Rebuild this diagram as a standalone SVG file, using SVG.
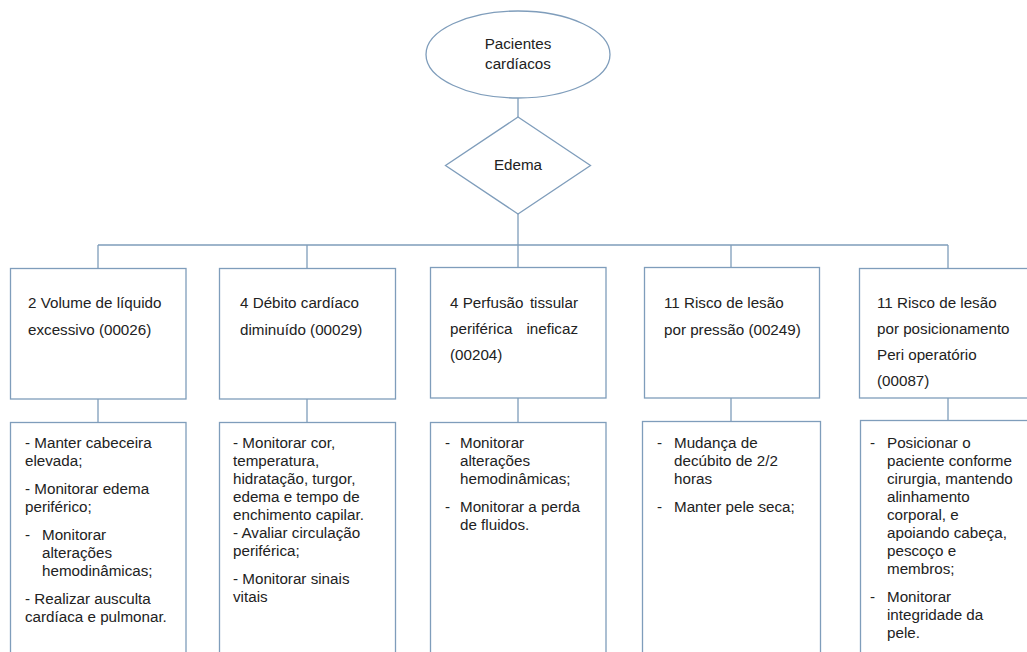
<svg xmlns="http://www.w3.org/2000/svg" width="1027" height="652" viewBox="0 0 1027 652">
<style>
.s{fill:#fff;stroke:#7f9dbb;stroke-width:1.3}
.c{fill:none;stroke:#7f9dbb;stroke-width:1.3}
text{font-family:"Liberation Sans",Arial,sans-serif;font-size:15.2px;fill:#222}
.m{text-anchor:middle}
.e{text-anchor:end}
</style>
<rect width="1027" height="652" fill="#fff"/>
<g id="connectors">
<path class="c" d="M518 98V117M518 214V245M98 245H948M98 245V268M307 245V268M518 245V268M731 245V268M948 245V268M98 399V422M307 399V422M518 398V422M731 398V422M948 398V420"/>
</g>
<g id="root">
<ellipse class="s" cx="518" cy="54.5" rx="92" ry="43.5"/>
<text class="m" x="518" y="49">Pacientes</text>
<text class="m" x="518" y="69">cardíacos</text>
</g>
<g id="edema">
<polygon class="s" points="518,117 590.5,165.5 518,214 445.5,165.5"/>
<text class="m" x="518" y="170">Edema</text>
</g>
<g id="d1">
<rect class="s" x="10.5" y="268.5" width="175.5" height="130.5"/>
<text x="28" y="308">2 Volume de líquido</text>
<text x="28" y="335">excessivo (00026)</text>
</g>
<g id="d2">
<rect class="s" x="219.5" y="268.5" width="176" height="130.5"/>
<text x="240" y="308">4 Débito cardíaco</text>
<text x="240" y="335">diminuído (00029)</text>
</g>
<g id="d3">
<rect class="s" x="430.5" y="267.5" width="175.5" height="130.5"/>
<text x="450" y="308">4 Perfusão</text>
<text class="e" x="578" y="308">tissular</text>
<text x="450" y="334">periférica</text>
<text class="e" x="578" y="334">ineficaz</text>
<text x="450" y="360">(00204)</text>
</g>
<g id="d4">
<rect class="s" x="644.5" y="267.5" width="175" height="130.5"/>
<text x="664" y="308">11 Risco de lesão</text>
<text x="664" y="335">por pressão (00249)</text>
</g>
<g id="d5">
<rect class="s" x="859.5" y="268.5" width="180" height="129.5"/>
<text x="877" y="308">11 Risco de lesão</text>
<text x="877" y="334">por posicionamento</text>
<text x="877" y="360">Peri operatório</text>
<text x="877" y="386">(00087)</text>
</g>
<g id="i1">
<rect class="s" x="10.5" y="422.5" width="175.5" height="240"/>
<text x="25" y="448">- Manter cabeceira</text>
<text x="25" y="466">elevada;</text>
<text x="25" y="494">- Monitorar edema</text>
<text x="25" y="512">periférico;</text>
<text x="25" y="540">-</text>
<text x="42" y="540">Monitorar</text>
<text x="42" y="558">alterações</text>
<text x="42" y="576">hemodinâmicas;</text>
<text x="25" y="604">- Realizar ausculta</text>
<text x="25" y="622">cardíaca e pulmonar.</text>
</g>
<g id="i2">
<rect class="s" x="219.5" y="422.5" width="176" height="240"/>
<text x="233" y="448">- Monitorar cor,</text>
<text x="233" y="466">temperatura,</text>
<text x="233" y="484">hidratação, turgor,</text>
<text x="233" y="502">edema e tempo de</text>
<text x="233" y="520">enchimento capilar.</text>
<text x="233" y="538">- Avaliar circulação</text>
<text x="233" y="556">periférica;</text>
<text x="233" y="584">- Monitorar sinais</text>
<text x="233" y="602">vitais</text>
</g>
<g id="i3">
<rect class="s" x="430.5" y="422.5" width="175.5" height="240"/>
<text x="445" y="448">-</text>
<text x="460" y="448">Monitorar</text>
<text x="460" y="466">alterações</text>
<text x="460" y="484">hemodinâmicas;</text>
<text x="445" y="512">-</text>
<text x="460" y="512">Monitorar a perda</text>
<text x="460" y="530">de fluidos.</text>
</g>
<g id="i4">
<rect class="s" x="642.5" y="421.5" width="178" height="240"/>
<text x="657" y="448">-</text>
<text x="674" y="448">Mudança de</text>
<text x="674" y="466">decúbito de 2/2</text>
<text x="674" y="484">horas</text>
<text x="657" y="512">-</text>
<text x="674" y="512">Manter pele seca;</text>
</g>
<g id="i5">
<rect class="s" x="860.5" y="420.5" width="180" height="240"/>
<text x="870" y="448">-</text>
<text x="887" y="448">Posicionar o</text>
<text x="887" y="466">paciente conforme</text>
<text x="887" y="484">cirurgia, mantendo</text>
<text x="887" y="502">alinhamento</text>
<text x="887" y="520">corporal, e</text>
<text x="887" y="538">apoiando cabeça,</text>
<text x="887" y="556">pescoço e</text>
<text x="887" y="574">membros;</text>
<text x="870" y="602">-</text>
<text x="887" y="602">Monitorar</text>
<text x="887" y="620">integridade da</text>
<text x="887" y="638">pele.</text>
</g>
</svg>
